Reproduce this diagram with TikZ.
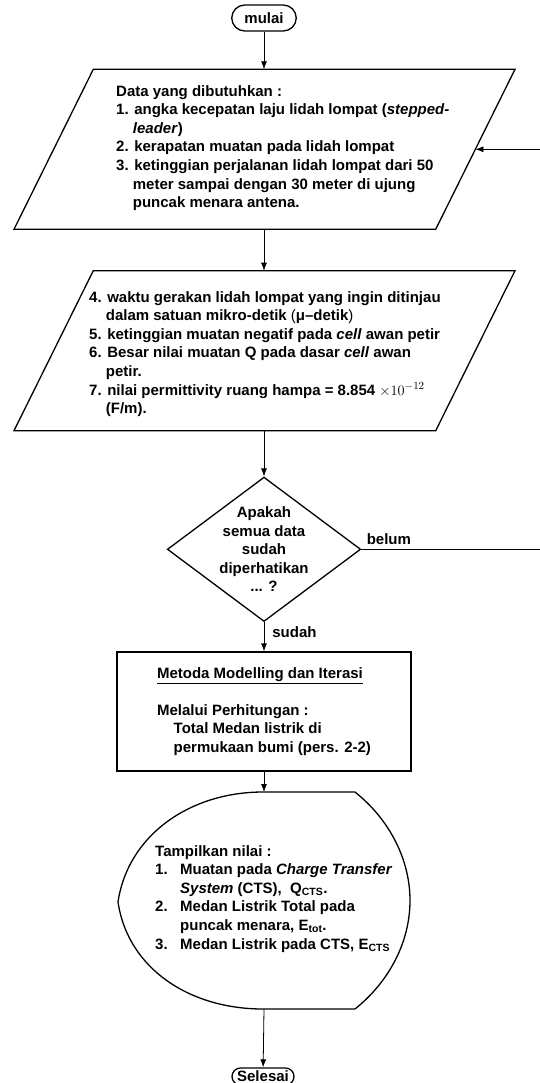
\documentclass[tikz,border=0pt]{standalone}
\usepackage{fontspec}
\setmainfont{Liberation Sans}
\usetikzlibrary{arrows.meta,shapes.geometric}

\newcommand{\ind}{\hspace*{16.7pt}}
\newcommand{\tabnum}[1]{\makebox[25pt][l]{#1}}

\begin{document}
\begin{tikzpicture}[x=1pt, y=-1pt,
            every node/.style={font=\fontsize{15}{18.6}\selectfont\bfseries},
            term/.style={draw, line width=1.3pt, inner sep=0pt},
            boxline/.style={draw, line width=1.3pt},
            decide/.style={draw, line width=1.3pt, diamond, minimum width=193.4pt, minimum height=144.4pt, inner sep=0pt},
            process/.style={draw, line width=1.3pt, rectangle, minimum width=294pt, minimum height=119pt,
                            align=left, inner sep=0pt},
            txt/.style={align=left, anchor=north west, inner sep=0pt},
            flow/.style={draw, line width=0.8pt, -{Latex[length=8pt,width=6pt]}}]
        \useasboundingbox (0,0) rectangle (540,1083);

        \node[term, rounded corners=13pt, minimum width=64.5pt, minimum height=26pt] (mulai) at (264,18) {mulai};

        \draw[boxline] (93.3,69.3) -- (515,69.3) -- (435.7,229.3) -- (14,229.3) -- cycle;
        \coordinate (data1top) at (264,69.3);
        \coordinate (data1bot) at (264,229.3);
        \coordinate (data1east) at (475.4,149.3);
        \node[txt] (data1txt) at (116,85) {Data yang dibutuhkan :\\
            1. angka kecepatan laju lidah lompat (\textit{stepped-}\\
            \ind\textit{leader})\\
            2. kerapatan muatan pada lidah lompat\\
            3. ketinggian perjalanan lidah lompat dari 50\\
            \ind meter sampai dengan 30 meter di ujung\\
            \ind puncak menara antena.};

        \draw[boxline] (93.3,270.7) -- (515,270.7) -- (435.7,430.7) -- (14,430.7) -- cycle;
        \coordinate (data2top) at (264,270.7);
        \coordinate (data2bot) at (264,430.7);
        \node[txt] (data2txt) at (89,291) {4. waktu gerakan lidah lompat yang ingin ditinjau\\
            \ind dalam satuan mikro-detik {\mdseries(}μ–detik{\mdseries)}\\
            5. ketinggian muatan negatif pada \textit{cell} awan petir\\
            6. Besar nilai muatan Q pada dasar \textit{cell} awan\\
            \ind petir.\\
            7. nilai permittivity ruang hampa = 8.854 $\times10^{-12}$\\
            \ind(F/m).};

        \node[decide] (cek) at (264,549.3) {};
        \node[align=center, inner sep=0pt] (cektxt) at (cek.center) {Apakah\\semua data\\sudah\\diperhatikan\\... ?};

        \node[process] (hitung) at (264,711.5) {\underline{Metoda Modelling dan Iterasi}\\[18.6pt]
            Melalui Perhitungan :\\
            \ind Total Medan listrik di\\
            \ind permukaan bumi (pers. 2-2)};

        \draw[boxline] (263,792) -- (355,792)
            .. controls (390,820) and (410,860) .. (410,900.5)
            .. controls (410,941) and (390,981) .. (355,1009)
            -- (263,1009)
            .. controls (190,1009) and (128,969) .. (118,902)
            .. controls (128,835) and (190,792) .. (263,792) -- cycle;
        \coordinate (tampiltop) at (264,792);
        \coordinate (tampilbot) at (264,1009);
        \node[txt] (tampiltxt) at (155,845) {Tampilkan nilai :\\
            \tabnum{1.}Muatan pada \textit{Charge Transfer}\\
            \tabnum{}\textit{System} (CTS),\ \ Q\textsubscript{CTS}.\\
            \tabnum{2.}Medan Listrik Total pada\\
            \tabnum{}puncak menara, E\textsubscript{tot}.\\
            \tabnum{3.}Medan Listrik pada CTS, E\textsubscript{CTS}};

        \node[term, rounded corners=8.5pt, minimum width=62pt, minimum height=17pt] (selesai) at (263,1076.5) {Selesai};
        \coordinate (balik) at (542,549.3);

        \draw[flow] (mulai) -- (data1top);
        \draw[flow] (data1bot) -- (data2top);
        \draw[flow] (data2bot) -- (cek);
        \draw[flow] (cek) -- node[pos=0, anchor=west, inner sep=0pt, xshift=8pt, yshift=-10pt] {sudah} (hitung);
        \draw[flow] (hitung) -- (tampiltop);
        \draw[flow] (tampilbot) -- (selesai);
        \draw[flow] (cek.east) -- node[pos=0, anchor=south west, inner sep=0pt, xshift=5pt, yshift=4pt] {belum} (balik) |- (data1east);
\end{tikzpicture}
\end{document}
